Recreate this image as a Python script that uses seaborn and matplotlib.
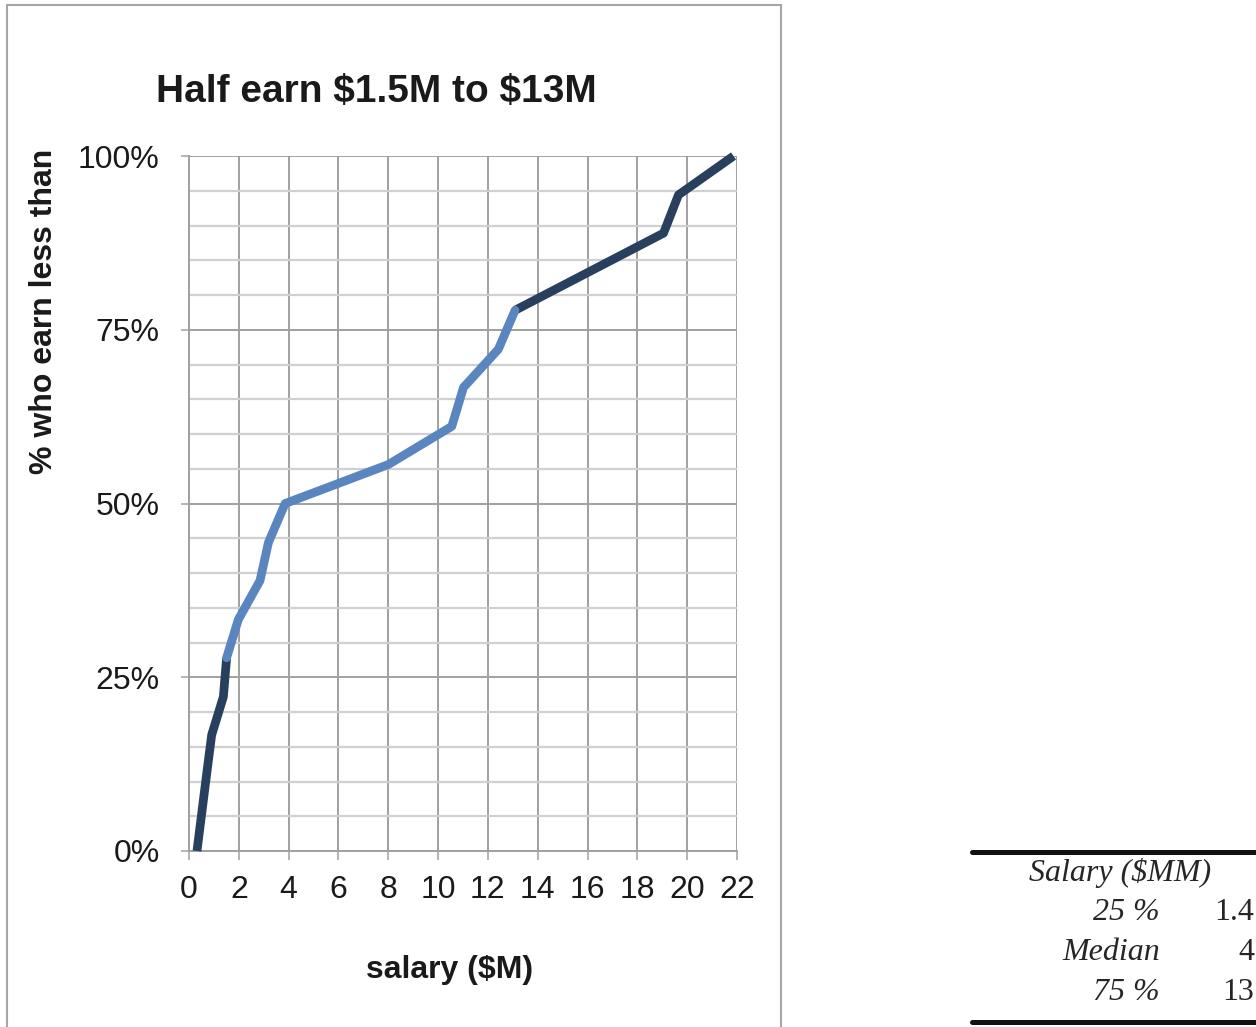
import matplotlib
matplotlib.use("Agg")
import matplotlib.pyplot as plt
from matplotlib.ticker import MultipleLocator, FuncFormatter
from matplotlib.patches import Rectangle
from matplotlib.lines import Line2D
import pandas as pd
import seaborn as sns

# Sorted salaries ($M) and the share of players earning less
salary_m = [0.32, 0.71, 0.91, 1.38, 1.51, 1.98, 2.85, 3.19, 3.86, 8.0,
            10.55, 11.02, 12.42, 13.09, 19.05, 19.65, 21.86]
pct_less = [0.0, 11.1, 16.7, 22.2, 27.8, 33.3, 38.9, 44.4, 50.0, 55.6,
            61.1, 66.7, 72.2, 77.8, 88.9, 94.4, 100.0]

# Quartile bands: first/last point index of each band
band_names = ["bottom quarter", "middle half", "top quarter"]
band_index = [(0, 4), (4, 13), (13, 16)]
band_colors = {"bottom quarter": "#283f5e", "middle half": "#5a86c0",
               "top quarter": "#283f5e"}

x_ticks_step = 2
y_ticks_major = 25
y_ticks_minor = 5

# Summary table
table_header = "Salary ($MM)"
stat_labels = ["25 %", "Median", "75 %"]
stat_values = [1.4, 4, 13]

rows = []
for name, (i0, i1) in zip(band_names, band_index):
    for i in range(i0, i1 + 1):
        rows.append({"salary": salary_m[i], "pct": pct_less[i], "band": name})
df = pd.DataFrame(rows)

sns.set_style("white")
plt.rcParams["font.family"] = ["Liberation Sans", "DejaVu Sans"]

W, H = 1256, 1027
fig = plt.figure(figsize=(W / 100, H / 100), dpi=100)
ax = fig.add_axes([189 / W, 1 - 851 / H, 548 / W, 695 / H])

sns.lineplot(data=df, x="salary", y="pct", hue="band", hue_order=band_names,
             palette=band_colors, linewidth=6.3, estimator=None, sort=False,
             legend=False, ax=ax)
for i, line in enumerate(ax.lines):
    line.set_solid_joinstyle("round")
    line.set_solid_capstyle("butt")
    line.set_zorder(3)
    line.set_clip_on(False)
ax.lines[1].set_zorder(4)
ax.lines[1].set_solid_capstyle("round")

ax.set_xlim(0, 22)
ax.set_ylim(0, 100)
ax.xaxis.set_major_locator(MultipleLocator(x_ticks_step))
ax.yaxis.set_major_locator(MultipleLocator(y_ticks_major))
ax.yaxis.set_minor_locator(MultipleLocator(y_ticks_minor))
ax.yaxis.set_major_formatter(FuncFormatter(lambda v, p: f"{v:.0f}%"))

grid_major = "#a0a0a0"
grid_minor = "#d0d0d0"
ax.set_axisbelow(True)
ax.grid(which="major", axis="both", color=grid_major, lw=1.4)
ax.grid(which="minor", axis="y", color=grid_minor, lw=1.6)
for side in ["top", "right"]:
    ax.spines[side].set_visible(False)
for side in ["left", "bottom"]:
    ax.spines[side].set_color(grid_major)
    ax.spines[side].set_linewidth(1.4)

ax.tick_params(axis="x", which="major", direction="out", length=6.5, width=1.1,
               color=grid_major, pad=11, labelsize=23, labelcolor="#1a1a1a",
               bottom=True)
ax.tick_params(axis="y", which="major", direction="out", length=6, width=1.1,
               color=grid_major, pad=15, labelsize=23, labelcolor="#1a1a1a",
               left=True)
ax.tick_params(axis="y", which="minor", length=0)

ax.set_xlabel("salary ($M)", fontsize=23, fontweight="bold", color="#1a1a1a",
              parse_math=False)
ax.xaxis.set_label_coords((450 - 189) / 548, (851 - 970) / 695)
ax.xaxis.label.set_va("center")
ax.set_ylabel("% who earn less than", fontsize=23, fontweight="bold",
              color="#1a1a1a")
ax.yaxis.set_label_coords((44 - 189) / 548, (851 - 311) / 695)
ax.yaxis.label.set_va("center")

fig.text(376 / W, 1 - 92 / H, "Half earn $1.5M to $13M", ha="center",
         va="center", fontsize=28, fontweight="bold", color="#1a1a1a",
         parse_math=False)

# Chart frame
fig.add_artist(Rectangle((7 / W, -0.05), (781 - 7) / W, 1.05 - 5 / H,
                         transform=fig.transFigure, fill=False,
                         edgecolor="#a6a6a6", lw=1.5))

# Summary table with booktabs-style rules
serif = ["Liberation Serif", "DejaVu Serif"]
for y in (851.5, 1022):
    fig.add_artist(Line2D([972 / W, 1.0], [1 - y / H] * 2,
                          transform=fig.transFigure, color="#111111", lw=3.6))
fig.text(1120 / W, 1 - 873 / H, table_header, ha="center", va="center",
         fontsize=23, style="italic", family=serif, parse_math=False)
for k, (lab, val) in enumerate(zip(stat_labels, stat_values)):
    y = 1 - (913 + 40 * k) / H
    fig.text(1160 / W, y, lab, ha="right", va="center", fontsize=23,
             style="italic", family=serif)
    fig.text(1254 / W, y, f"{val:g}", ha="right", va="center", fontsize=23,
             family=serif)

fig.savefig("out.png", dpi=100)
